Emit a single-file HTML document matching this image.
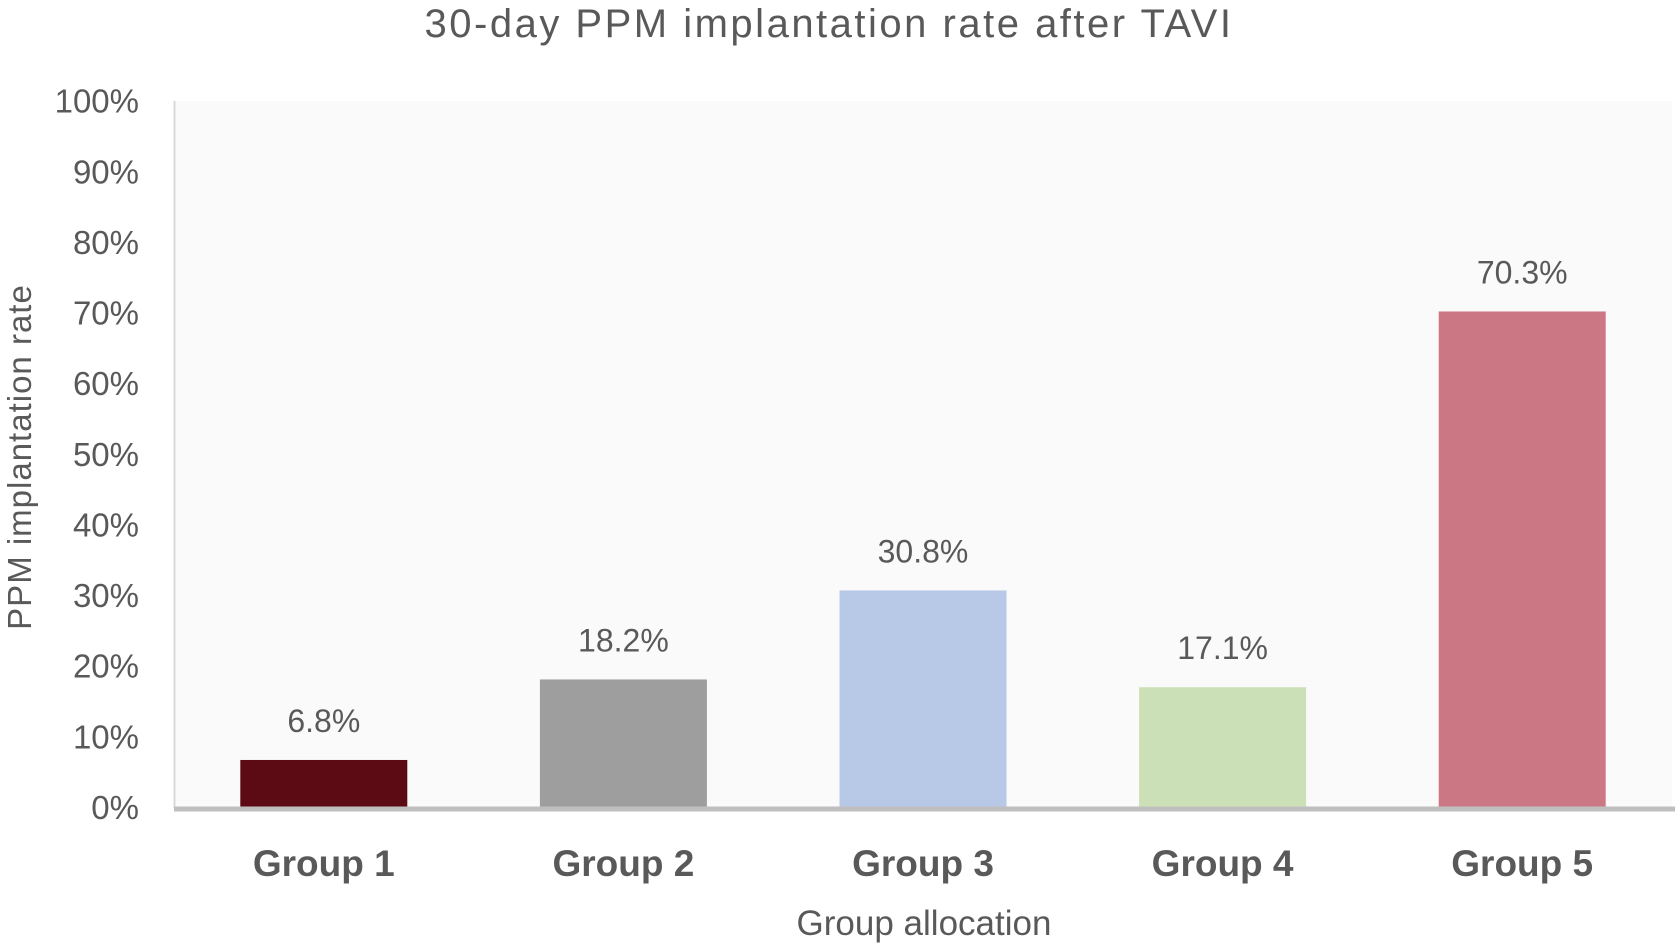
<!DOCTYPE html>
<html><head><meta charset="utf-8"><style>
html,body{margin:0;padding:0;background:#fff;}
svg text{font-family:"Liberation Sans",sans-serif;fill:#595959;}
</style></head><body>
<svg id="chart" width="1675" height="945" viewBox="0 0 1675 945">
<text x="829" y="37" text-anchor="middle" font-size="40" letter-spacing="2.5">30-day PPM implantation rate after TAVI</text>
<rect x="174" y="101" width="1498" height="707" fill="#fafafa"/>
<line x1="174.5" y1="101" x2="174.5" y2="808" stroke="#d9d9d9" stroke-width="2"/>
<g id="yticks"></g>
<g id="bars"></g>
<line x1="174" y1="809" x2="1675" y2="809" stroke="#bfbfbf" stroke-width="5"/>
<text x="924" y="935" text-anchor="middle" font-size="35">Group allocation</text>
<text transform="translate(31,457) rotate(-90)" text-anchor="middle" font-size="33" letter-spacing="1">PPM implantation rate</text>
</svg>
<script>
const categories = ["Group 1","Group 2","Group 3","Group 4","Group 5"];
const values = [6.8, 18.2, 30.8, 17.1, 70.3];
const valueLabels = ["6.8%","18.2%","30.8%","17.1%","70.3%"];
const yTicks = [0,10,20,30,40,50,60,70,80,90,100];
const colors = ["#5c0a14","#9e9e9e","#b8c9e8","#cce0b8","#cc7884"];
const NS="http://www.w3.org/2000/svg";
const x0=174, x1=1672, yTop=101.7, yBot=808;
const y = v => yBot - (v/100)*(yBot-yTop);
const step=(x1-x0)/categories.length;
const xc = i => x0 + step*(i+0.5);
const bw=167;
const gt=document.getElementById('yticks');
yTicks.forEach(t=>{
  const el=document.createElementNS(NS,'text');
  el.setAttribute('x',139);el.setAttribute('y',y(t)+11);
  el.setAttribute('text-anchor','end');el.setAttribute('font-size','33');
  el.textContent=t+'%';
  
  
  gt.appendChild(el);
});
const gb=document.getElementById('bars');
categories.forEach((c,i)=>{
  const r=document.createElementNS(NS,'rect');
  r.setAttribute('x',xc(i)-bw/2);r.setAttribute('y',y(values[i]));
  r.setAttribute('width',bw);r.setAttribute('height',yBot-y(values[i]));
  r.setAttribute('fill',colors[i]);
  
  
  gb.appendChild(r);
  const l=document.createElementNS(NS,'text');
  l.setAttribute('x',xc(i));l.setAttribute('y',y(values[i])-28);
  l.setAttribute('text-anchor','middle');l.setAttribute('font-size','32');
  l.textContent=valueLabels[i];
  
  
  gb.appendChild(l);
  const cl=document.createElementNS(NS,'text');
  cl.setAttribute('x',xc(i));cl.setAttribute('y',876);
  cl.setAttribute('text-anchor','middle');cl.setAttribute('font-size','37');cl.setAttribute('font-weight','bold');
  cl.textContent=c;
  
  
  gb.appendChild(cl);
});
</script>
</body></html>
